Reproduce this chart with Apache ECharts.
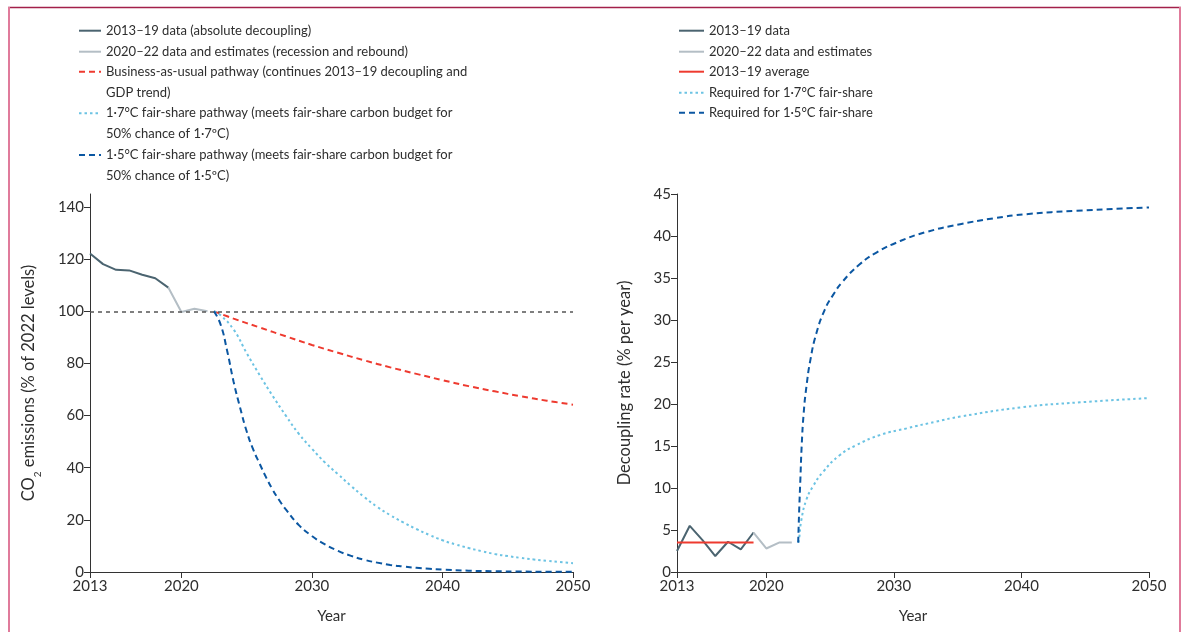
<!DOCTYPE html>
<html>
<head>
<meta charset="utf-8">
<script src="https://cdn.jsdelivr.net/npm/echarts@6/dist/echarts.min.js"></script>
<style>
  html, body { margin: 0; padding: 0; background: #fff; }
  #chart { width: 1187px; height: 632px; }
</style>
</head>
<body>
<div id="chart"></div>
<script>
// ---------- DATA ----------
const xTickYears = [2013, 2020, 2030, 2040, 2050];
const leftYTicks = [0, 20, 40, 60, 80, 100, 120, 140];

// Left panel: CO2 emissions (% of 2022 levels)
const histYears = [2013, 2014, 2015, 2016, 2017, 2018, 2019, 2020, 2021, 2022];
const emissions = [122.2, 118.1, 115.9, 115.7, 114.0, 112.7, 109.1, 99.7, 101.0, 100];
const referenceLevel = 100;

const bauPathway = [
  [2022.5, 100], [2024, 97.2], [2026, 93.8], [2028, 90.4], [2030, 87.1], [2032, 84.1],
  [2034, 81.2], [2036, 78.5], [2038, 76.0], [2040, 73.6], [2042, 71.3], [2044, 69.3],
  [2046, 67.4], [2048, 65.7], [2050, 64.2]
];
const pathway17 = [
  [2022.5, 100], [2023, 98.5], [2024, 93], [2025, 84], [2026, 75.5], [2027, 67.5],
  [2028, 60], [2029, 53], [2030, 47.3], [2031, 42], [2032, 37.5], [2033, 33],
  [2034, 28.8], [2035, 25], [2036, 21.8], [2037, 19], [2038, 16.5], [2039, 14.2],
  [2040, 12.2], [2041, 10.6], [2042, 9.2], [2043, 8], [2044, 6.9], [2045, 6.1],
  [2046, 5.4], [2047, 4.8], [2048, 4.3], [2049, 3.8], [2050, 3.4]
];
const pathway15 = [
  [2022.5, 100], [2023, 95], [2023.5, 85], [2024, 73], [2024.5, 63], [2025, 54],
  [2025.5, 47], [2026, 41.5], [2026.5, 36.2], [2027, 31.5], [2027.5, 27.5], [2028, 24],
  [2029, 18], [2030, 13.8], [2031, 10.6], [2032, 8.1], [2033, 6.2], [2034, 4.7],
  [2035, 3.6], [2036, 2.7], [2037, 2.1], [2038, 1.6], [2039, 1.2], [2040, 0.9],
  [2042, 0.5], [2044, 0.3], [2046, 0.17], [2048, 0.1], [2050, 0.06]
];

// Right panel: decoupling rate (% per year)
const decoupling = [2.5, 5.5, 3.8, 1.9, 3.6, 2.7, 4.7, 2.8, 3.5, 3.5];
const decouplingAvg = 3.5;
const required17 = [
  [2022.5, 3.5], [2022.56, 3.8], [2022.75, 6.2], [2023.14, 8.6], [2023.66, 10.2],
  [2024.44, 11.9], [2025.75, 13.9], [2027.06, 15.1], [2028.9, 16.3], [2031, 17.1],
  [2033.3, 17.9], [2035.2, 18.5], [2040, 19.6], [2044.6, 20.2], [2050, 20.7]
];
const required15 = [
  [2022.5, 3.5], [2022.57, 7], [2022.67, 11], [2022.77, 14.9], [2022.93, 18.9],
  [2023.14, 22], [2023.45, 25.2], [2023.92, 28.4], [2024.58, 31.2], [2025.2, 32.9],
  [2026, 34.6], [2027.3, 36.6], [2028.6, 38.0], [2030.5, 39.4], [2032.6, 40.5],
  [2035.2, 41.4], [2037.8, 42.1], [2040.4, 42.6], [2044.3, 43.0], [2050, 43.4]
];

// Series names (legend text)
const leftNames = [
  '2013–19 data (absolute decoupling)',
  '2020–22 data and estimates (recession and rebound)',
  'Business-as-usual pathway (continues 2013–19 decoupling and\nGDP trend)',
  '1·7°C fair-share pathway (meets fair-share carbon budget for\n50% chance of 1·7ºC)',
  '1·5°C fair-share pathway (meets fair-share carbon budget for\n50% chance of 1·5ºC)'
];
const rightNames = [
  '2013–19 data',
  '2020–22 data and estimates',
  '2013–19 average',
  'Required for 1·7°C fair-share',
  'Required for 1·5°C fair-share'
];

// ---------- STYLE ----------
const FONT = 'Lato';
const TXT = '#2e2e2e';
const C_HIST = '#4b6470';
const C_REC = '#b4bec5';
const C_RED = '#ee3a2f';
const C_LB = '#6cc3e3';
const C_DB = '#0b57a2';

const pairs = (xs, ys) => xs.map((x, i) => [x, ys[i]]);
const histPairsL = pairs(histYears, emissions);
const histPairsR = pairs(histYears, decoupling);

function xAxis(gridIndex) {
  return {
    type: 'value', gridIndex, min: 2013, max: 2050,
    name: 'Year', nameLocation: 'middle', nameGap: 37,
    nameTextStyle: { fontFamily: FONT, fontSize: 15, color: TXT },
    axisLine: { show: true, lineStyle: { color: '#333', width: 1 } },
    axisTick: { show: true, customValues: xTickYears, length: 6, lineStyle: { color: '#333' } },
    axisLabel: { customValues: xTickYears, fontFamily: FONT, fontSize: 15, color: TXT, margin: 7, formatter: v => String(v) },
    splitLine: { show: false }
  };
}

const lineBase = { type: 'line', showSymbol: false, symbol: 'none', animation: false, silent: true };

const option = {
  animation: false,
  textStyle: { fontFamily: FONT },
  grid: [
    { left: 90, width: 483, top: 194, height: 378 },
    { left: 677, width: 472, top: 194, height: 378 }
  ],
  xAxis: [xAxis(0), xAxis(1)],
  yAxis: [
    {
      type: 'value', gridIndex: 0, min: 0, max: 145,
      name: 'CO{sub|2} emissions (% of 2022 levels)', nameLocation: 'middle', nameGap: 53,
      nameTextStyle: { fontFamily: FONT, fontSize: 16.5, color: TXT,
        rich: { sub: { fontFamily: FONT, fontSize: 10, color: TXT, verticalAlign: 'bottom', padding: [0, 0, -6, 0] } } },
      axisLine: { show: true, lineStyle: { color: '#333', width: 1 } },
      axisTick: { show: true, customValues: leftYTicks, length: 6, lineStyle: { color: '#333' } },
      axisLabel: { customValues: leftYTicks, fontFamily: FONT, fontSize: 15, color: TXT, margin: 6 },
      splitLine: { show: false }
    },
    {
      type: 'value', gridIndex: 1, min: 0, max: 45, interval: 5,
      name: 'Decoupling rate (% per year)', nameLocation: 'middle', nameGap: 44,
      nameTextStyle: { fontFamily: FONT, fontSize: 16.5, color: TXT },
      axisLine: { show: true, lineStyle: { color: '#333', width: 1 } },
      axisTick: { show: true, length: 6, lineStyle: { color: '#333' } },
      axisLabel: { fontFamily: FONT, fontSize: 15, color: TXT, margin: 6 },
      splitLine: { show: false }
    }
  ],
  legend: [],
  graphic: [
    { type: 'line', shape: { x1: 8, y1: 7.5, x2: 1181, y2: 7.5 }, style: { stroke: '#a3204a', lineWidth: 1.5 }, silent: true },
    { type: 'line', shape: { x1: 9, y1: 7, x2: 9, y2: 632 }, style: { stroke: '#e07b9b', lineWidth: 2 }, silent: true },
    { type: 'line', shape: { x1: 1180, y1: 7, x2: 1180, y2: 632 }, style: { stroke: '#e07b9b', lineWidth: 2 }, silent: true }
  ],
  series: [
    // left panel
    Object.assign({}, lineBase, {
      name: leftNames[0], xAxisIndex: 0, yAxisIndex: 0, data: histPairsL.slice(0, 7),
      lineStyle: { color: C_HIST, width: 2 }, itemStyle: { color: C_HIST }, z: 4,
      markLine: {
        silent: true, symbol: 'none', label: { show: false },
        lineStyle: { color: '#555', type: [4, 4], width: 1.5 },
        data: [[{ coord: [2013, referenceLevel] }, { coord: [2050, referenceLevel] }]]
      }
    }),
    Object.assign({}, lineBase, {
      name: leftNames[1], xAxisIndex: 0, yAxisIndex: 0, data: histPairsL.slice(6),
      lineStyle: { color: C_REC, width: 2 }, itemStyle: { color: C_REC }, z: 4
    }),
    Object.assign({}, lineBase, {
      name: leftNames[2], xAxisIndex: 0, yAxisIndex: 0, data: bauPathway, smooth: 0.4,
      lineStyle: { color: C_RED, width: 2, type: [6, 4] }, itemStyle: { color: C_RED }, z: 3
    }),
    Object.assign({}, lineBase, {
      name: leftNames[3], xAxisIndex: 0, yAxisIndex: 0, data: pathway17, smooth: 0.5,
      lineStyle: { color: C_LB, width: 2, type: [2.5, 3] }, itemStyle: { color: C_LB }, z: 3
    }),
    Object.assign({}, lineBase, {
      name: leftNames[4], xAxisIndex: 0, yAxisIndex: 0, data: pathway15, smooth: 0.5,
      lineStyle: { color: C_DB, width: 2, type: [6, 4] }, itemStyle: { color: C_DB }, z: 3
    }),
    // right panel
    Object.assign({}, lineBase, {
      name: rightNames[0], xAxisIndex: 1, yAxisIndex: 1, data: histPairsR.slice(0, 7),
      lineStyle: { color: C_HIST, width: 2 }, itemStyle: { color: C_HIST }, z: 3
    }),
    Object.assign({}, lineBase, {
      name: rightNames[1], xAxisIndex: 1, yAxisIndex: 1, data: histPairsR.slice(6),
      lineStyle: { color: C_REC, width: 2 }, itemStyle: { color: C_REC }, z: 3
    }),
    Object.assign({}, lineBase, {
      name: rightNames[2], xAxisIndex: 1, yAxisIndex: 1, data: [[2013, decouplingAvg], [2019, decouplingAvg]],
      lineStyle: { color: C_RED, width: 2 }, itemStyle: { color: C_RED }, z: 4
    }),
    Object.assign({}, lineBase, {
      name: rightNames[3], xAxisIndex: 1, yAxisIndex: 1, data: required17, smooth: 0.5,
      lineStyle: { color: C_LB, width: 2, type: [2.5, 3] }, itemStyle: { color: C_LB }, z: 3
    }),
    Object.assign({}, lineBase, {
      name: rightNames[4], xAxisIndex: 1, yAxisIndex: 1, data: required15, smooth: 0.5,
      lineStyle: { color: C_DB, width: 2, type: [6, 4] }, itemStyle: { color: C_DB }, z: 3
    })
  ]
};

// Legends: one component per entry so that wrapped entries keep the icon on the first line
const LH = 21;
function addLegend(name, left, firstLineCenter, iconW) {
  const multi = name.indexOf('\n') >= 0;
  const lines = multi ? 3 : 1;
  option.legend.push({
    data: [name], left, top: firstLineCenter - lines * LH / 2, padding: 0,
    orient: 'vertical', itemWidth: iconW, itemHeight: 10, itemGap: 0, selectedMode: false,
    itemStyle: { opacity: 0 },
    textStyle: { fontFamily: FONT, fontSize: 13, color: TXT, lineHeight: LH },
    formatter: n => (n.indexOf('\n') >= 0 ? '\n' + n : n)
  });
}
const leftCenters = [30.7, 51.7, 71.7, 113.3, 155];
const rightCenters = [30.7, 51.7, 71.7, 92.7, 112.7];
leftNames.forEach((n, i) => addLegend(n, 78, leftCenters[i], 22));
rightNames.forEach((n, i) => addLegend(n, 678, rightCenters[i], 25));

const chart = echarts.init(document.getElementById('chart'), null, { renderer: 'canvas' });
chart.setOption(option);
</script>
</body>
</html>
